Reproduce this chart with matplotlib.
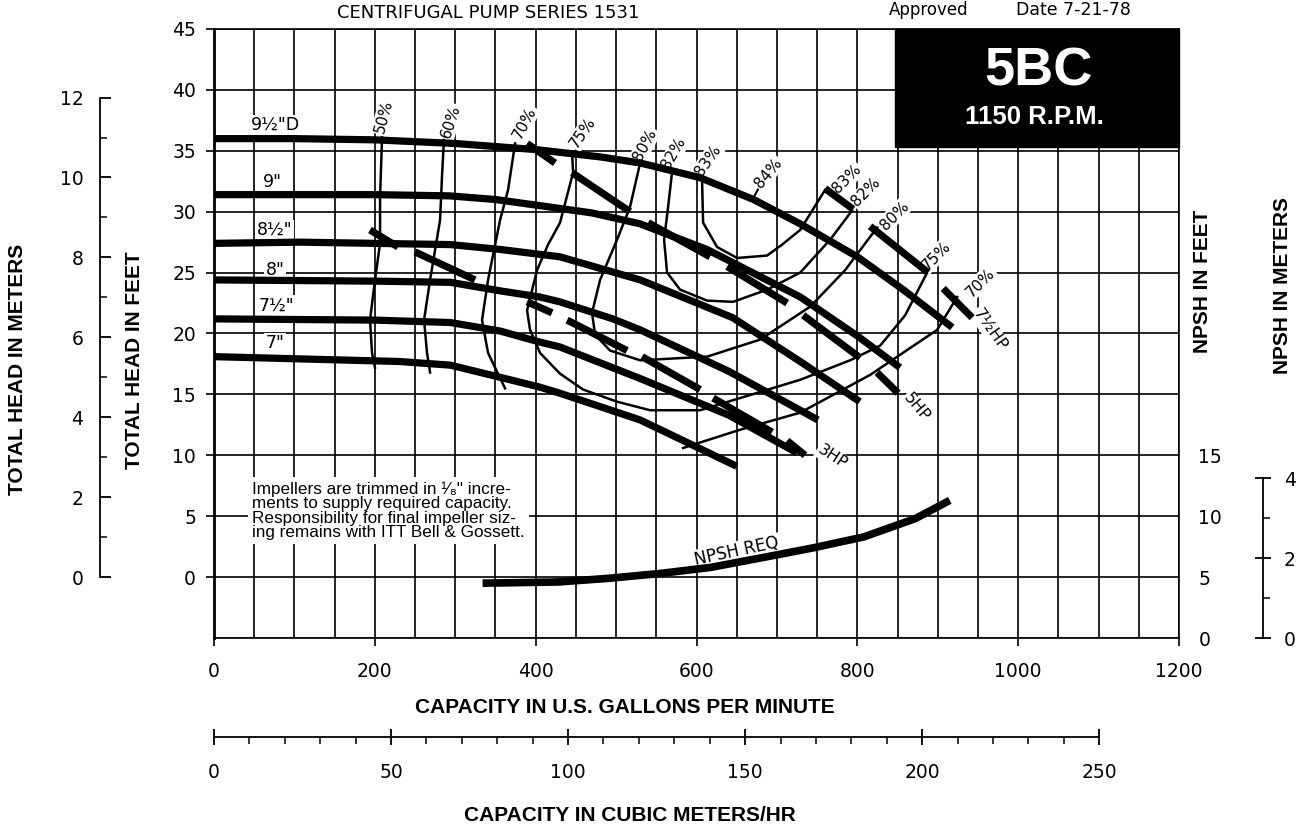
import numpy as np
import matplotlib.pyplot as plt
from matplotlib.patches import Rectangle

# impeller head curves, capacity (US gpm) vs total head (ft)
q_950 = [0, 100, 200, 300, 400, 480, 530, 604, 671, 729, 800, 857, 918]
h_950 = [36.0, 36.0, 35.9, 35.6, 35.1, 34.5, 34.0, 32.8, 31.0, 29.0, 26.3, 23.6, 20.5]
q_900 = [0, 200, 293, 350, 405, 470, 530, 613, 729, 800, 853]
h_900 = [31.4, 31.4, 31.3, 31.0, 30.5, 29.9, 29.0, 26.9, 23.0, 19.8, 17.2]
q_850 = [0, 107, 294, 356, 405, 430, 530, 645, 729, 803]
h_850 = [27.4, 27.5, 27.3, 26.9, 26.5, 26.3, 24.4, 21.3, 17.7, 14.4]
q_800 = [0, 200, 294, 356, 405, 430, 496, 530, 640, 729, 751]
h_800 = [24.4, 24.3, 24.2, 23.5, 23.0, 22.6, 21.2, 20.3, 16.9, 13.7, 12.9]
q_750 = [0, 200, 294, 356, 405, 430, 530, 640, 725]
h_750 = [21.2, 21.1, 20.9, 20.2, 19.3, 18.9, 16.3, 13.3, 10.2]
q_700 = [0, 231, 294, 356, 405, 430, 530, 650]
h_700 = [18.1, 17.7, 17.4, 16.4, 15.6, 15.1, 12.9, 9.1]

imp_names = ['9½"D', '9"', '8½"', '8"', '7½"', '7"']
imp_lab_q = [76, 73, 76, 76, 78, 76]
imp_lab_h = [37.1, 32.4, 28.5, 25.2, 22.3, 19.2]

# iso-efficiency curves
e50_q = [209.0, 206.5, 206.5, 200.2, 194.0, 196.5, 200.2]
e50_h = [36.1, 31.2, 27.4, 24.4, 21.1, 18.4, 17.2]
e60_q = [286.1, 283.6, 281.1, 268.7, 261.2, 264.9, 268.7]
e60_h = [36.1, 33.0, 29.3, 24.4, 21.1, 18.4, 16.8]
e70l_q = [374.4, 365.7, 355.7, 340.8, 333.3, 340.8, 361.9]
e70l_h = [35.6, 31.8, 29.3, 24.4, 21.1, 18.4, 15.5]
e70r_q = [583.3, 654.2, 728.9, 815.9, 899.3, 924.1]
e70r_h = [10.6, 12.1, 13.5, 16.6, 20.3, 23.0]
e75_q = [445.3, 446.5, 430.3, 415.4, 401.7, 389.3, 393.0, 405.5, 430.3, 459.0,
         501.2, 542.3, 604.5, 654.2, 728.9, 791.0, 828.4, 859.5, 886.8]
e75_h = [34.9, 33.2, 29.1, 27.3, 25.2, 21.9, 20.3, 18.4, 16.7, 15.4,
         14.4, 13.7, 13.7, 14.7, 16.2, 17.8, 19.0, 21.5, 25.0]
e80_q = [529.9, 517.4, 501.2, 480.1, 470.1, 473.9, 492.5, 529.9, 613.2, 679.1, 741.3, 784.8, 824.6]
e80_h = [34.0, 30.4, 27.7, 24.4, 21.7, 19.9, 18.6, 17.8, 18.1, 19.5, 22.2, 25.2, 28.7]
e82_q = [569.7, 564.7, 559.7, 563.4, 579.6, 613.2, 645.5, 687.8, 728.9, 766.2, 793.5]
e82_h = [33.3, 30.4, 27.7, 25.0, 23.6, 22.7, 22.6, 23.6, 25.0, 27.7, 30.1]
e83_q = [607.0, 608.2, 625.6, 650.5, 687.8, 706.5, 728.9, 760.0]
e83_h = [32.4, 29.1, 27.1, 26.2, 26.4, 27.3, 28.5, 31.8]
e84_q = [670.4]
e84_h = [31.1]

eff_text = ['50%', '60%', '70%', '75%', '80%', '82%', '83%', '84%',
            '83%', '82%', '80%', '75%', '70%']
eff_lab_q = [211, 294, 386, 459, 536, 572, 614, 689, 787, 811, 846, 898, 953]
eff_lab_h = [37.8, 37.4, 37.3, 36.5, 35.5, 34.8, 34.2, 33.2, 32.7, 31.6, 29.7, 26.4, 24.2]
eff_lab_rot = [75, 72, 62, 55, 62, 60, 55, 50, 45, 45, 45, 45, 45]

# brake horsepower lines, drawn as dash segments (start, end pairs)
hp3_q = [194.0, 228.9, 250.0, 324.6, 389.3, 420.4, 439.1, 513.7, 532.3, 604.5, 620.6, 694.0, 712.7, 735.0]
hp3_h = [28.5, 27.1, 26.7, 24.4, 22.6, 21.7, 21.1, 18.6, 18.1, 15.4, 14.7, 11.9, 11.2, 10.0]
hp5_q = [389.3, 424.1, 445.3, 517.4, 539.8, 616.9, 638.1, 712.7, 732.6, 803.5, 824.6, 850.7]
hp5_h = [35.6, 34.0, 33.2, 30.0, 29.1, 26.3, 25.5, 22.5, 21.5, 18.0, 16.8, 15.1]
hp75_q = [760.0, 794.8, 815.9, 888.1, 906.7, 942.8]
hp75_h = [31.9, 30.2, 28.8, 25.0, 23.7, 21.3]

hp_text = ['3HP', '5HP', '7½HP']
hp_lab_q = [769, 874, 965]
hp_lab_h = [9.85, 13.9, 20.3]
hp_lab_rot = [-33, -50, -55]

# NPSH required (ft)
npsh_q = [334, 428, 491, 555, 618, 682, 745, 808, 872, 915]
npsh_ft = [4.5, 4.6, 4.9, 5.3, 5.8, 6.6, 7.4, 8.3, 9.8, 11.3]

FT_PER_M = 3.28084
GPM_PER_M3H = 4.4029

fig = plt.figure(figsize=(13.07, 8.30), dpi=100)
L, R = 214 / 1307, 1179 / 1307
B, T = 1 - 638 / 830, 1 - 29 / 830
ax = fig.add_axes([L, B, R - L, T - B])
ax.set_xlim(0, 1200)
ax.set_ylim(-5, 45)
ax.set_xticks(np.arange(0, 1201, 200))
ax.set_xticks(np.arange(0, 1201, 50), minor=True)
ax.set_yticks(np.arange(0, 46, 5))
ax.set_yticks([-5], minor=True)
ax.grid(True, which='both', color='black', lw=1.2)
ax.set_axisbelow(True)
ax.tick_params(axis='x', which='major', length=6, width=1.2, pad=11, labelsize=13.5)
ax.tick_params(axis='y', which='major', length=6, width=1.2, pad=7, labelsize=13.5)
ax.tick_params(which='minor', length=0)
for s in ax.spines.values():
    s.set_linewidth(1.2)
ax.spines['left'].set_linewidth(2)

# black title block
ax.add_patch(Rectangle((847, 35.3), 353, 9.7, color='black', zorder=3, clip_on=False))
ax.text(1025, 41.5, '5BC', color='white', fontsize=39, fontweight='bold',
        family='Liberation Sans', ha='center', va='center', zorder=4)
ax.text(1020, 37.8, '1150 R.P.M.', color='white', fontsize=18.5, fontweight='bold',
        family='Liberation Sans', ha='center', va='center', zorder=4)

wbox = dict(facecolor='white', edgecolor='none', pad=1.0)

# impeller curves
curves = [(q_950, h_950), (q_900, h_900), (q_850, h_850),
          (q_800, h_800), (q_750, h_750), (q_700, h_700)]
for (q, h) in curves:
    ax.plot(q, h, color='black', lw=5.2, solid_capstyle='butt', zorder=5)
for name, xq, yh in zip(imp_names, imp_lab_q, imp_lab_h):
    ax.text(xq, yh, name, fontsize=12.5, ha='center', va='center', bbox=wbox, zorder=4)

# efficiency curves
for q, h in [(e50_q, e50_h), (e60_q, e60_h), (e70l_q, e70l_h), (e70r_q, e70r_h),
             (e75_q, e75_h), (e80_q, e80_h), (e82_q, e82_h), (e83_q, e83_h)]:
    ax.plot(q, h, color='black', lw=1.8, zorder=4)
# 84% leader
ax.annotate('', xy=(e84_q[0], e84_h[0]), xytext=(683, 32.6),
            arrowprops=dict(arrowstyle='-', lw=1.5, color='black'), zorder=4)
for t, xq, yh, r in zip(eff_text, eff_lab_q, eff_lab_h, eff_lab_rot):
    ax.text(xq, yh, t, fontsize=11, rotation=r, ha='center', va='center',
            rotation_mode='anchor', bbox=wbox, zorder=4)

# horsepower lines
for q, h in [(hp3_q, hp3_h), (hp5_q, hp5_h), (hp75_q, hp75_h)]:
    for i in range(0, len(q), 2):
        ax.plot(q[i:i + 2], h[i:i + 2], color='black', lw=5.2,
                solid_capstyle='butt', zorder=5)
for t, xq, yh, r in zip(hp_text, hp_lab_q, hp_lab_h, hp_lab_rot):
    ax.text(xq, yh, t, fontsize=11.5, rotation=r, ha='center', va='center',
            rotation_mode='anchor', bbox=wbox, zorder=4)

# note
ax.text(47, 7.85, 'Impellers are trimmed in ¹⁄₈" incre-\nments to supply required capacity.\n'
        'Responsibility for final impeller siz-\ning remains with ITT Bell & Gossett.',
        fontsize=12.3, family=['Liberation Sans Narrow', 'Liberation Sans', 'DejaVu Sans'],
        ha='left', va='top', linespacing=0.95,
        bbox=dict(facecolor='white', edgecolor='none', pad=3), zorder=4)

# NPSH axis (feet) on the right
axn = ax.twinx()
axn.set_ylim(0, 50)
axn.set_yticks([0, 5, 10, 15])
axn.tick_params(axis='y', length=0, pad=14, labelsize=13.5)
for s in axn.spines.values():
    s.set_visible(False)
axn.plot(npsh_q, npsh_ft, color='black', lw=5.5, solid_capstyle='butt', zorder=5)
axn.text(650, 7.1, 'NPSH REQ', fontsize=12, rotation=12, ha='center', va='center',
         rotation_mode='anchor', bbox=wbox)

# head in meters (left)
axm = fig.add_axes([100 / 1307, B, 0.0001, T - B])
axm.set_ylim(-5 / FT_PER_M, 45 / FT_PER_M)
axm.patch.set_visible(False)
for s in ['top', 'right', 'bottom']:
    axm.spines[s].set_visible(False)
axm.spines['left'].set_bounds(0, 12)
axm.spines['left'].set_linewidth(1.3)
axm.set_xticks([])
axm.set_yticks(np.arange(0, 13, 2))
axm.set_yticks(np.arange(1, 12, 2), minor=True)
axm.tick_params(axis='y', which='major', direction='in', length=8, width=1.3, pad=12, labelsize=13.5)
axm.tick_params(axis='y', which='minor', direction='in', length=5, width=1.1)

# NPSH in meters (right)
axnm = fig.add_axes([1263 / 1307, B, 0.0001, T - B])
axnm.set_ylim(0, 50 / FT_PER_M)
axnm.patch.set_visible(False)
for s in ['top', 'left', 'bottom']:
    axnm.spines[s].set_visible(False)
axnm.spines['right'].set_bounds(0, 4)
axnm.spines['right'].set_linewidth(1.3)
axnm.set_xticks([])
axnm.yaxis.tick_right()
axnm.set_yticks([0, 2, 4])
axnm.set_yticks([1, 3], minor=True)
axnm.tick_params(axis='y', which='major', direction='inout', length=12, width=1.3, pad=9, labelsize=13.5)
axnm.tick_params(axis='y', which='minor', direction='out', length=5, width=1.1)

# capacity in m3/hr (bottom)
axc = fig.add_axes([L, 1 - 737 / 830, R - L, 0.0001])
axc.set_xlim(0, 1200 / GPM_PER_M3H)
axc.patch.set_visible(False)
for s in ['top', 'left', 'right']:
    axc.spines[s].set_visible(False)
axc.spines['bottom'].set_bounds(0, 250)
axc.spines['bottom'].set_linewidth(1.3)
axc.set_yticks([])
axc.set_xticks(np.arange(0, 251, 50))
axc.set_xticks(np.arange(0, 251, 10), minor=True)
axc.tick_params(axis='x', which='major', direction='inout', length=12, width=1.3, pad=13, labelsize=13.5)
axc.tick_params(axis='x', which='minor', direction='out', length=5, width=1.1)

# axis titles
bold = dict(fontsize=15, fontweight='bold', family='Liberation Sans')
fig.text(625 / 1307, 1 - 707 / 830, 'CAPACITY IN U.S. GALLONS PER MINUTE', ha='center', va='center', **bold)
fig.text(630 / 1307, 1 - 815 / 830, 'CAPACITY IN CUBIC METERS/HR', ha='center', va='center', **bold)
fig.text(18 / 1307, 1 - 369 / 830, 'TOTAL HEAD IN METERS', rotation=90, ha='center', va='center', **bold)
fig.text(135 / 1307, 1 - 360 / 830, 'TOTAL HEAD IN FEET', rotation=90, ha='center', va='center', **bold)
fig.text(1203 / 1307, 1 - 281 / 830, 'NPSH IN FEET', rotation=90, ha='center', va='center', **bold)
fig.text(1283 / 1307, 1 - 286 / 830, 'NPSH IN METERS', rotation=90, ha='center', va='center', **bold)

fig.text(337 / 1307, 1 - 13 / 830, 'CENTRIFUGAL PUMP SERIES 1531', fontsize=13, ha='left', va='center')
fig.text(889 / 1307, 1 - 10 / 830, 'Approved', fontsize=12, ha='left', va='center')
fig.text(1016 / 1307, 1 - 10 / 830, 'Date 7-21-78', fontsize=12.5, ha='left', va='center')

fig.savefig('out.png', dpi=100, facecolor='white')
